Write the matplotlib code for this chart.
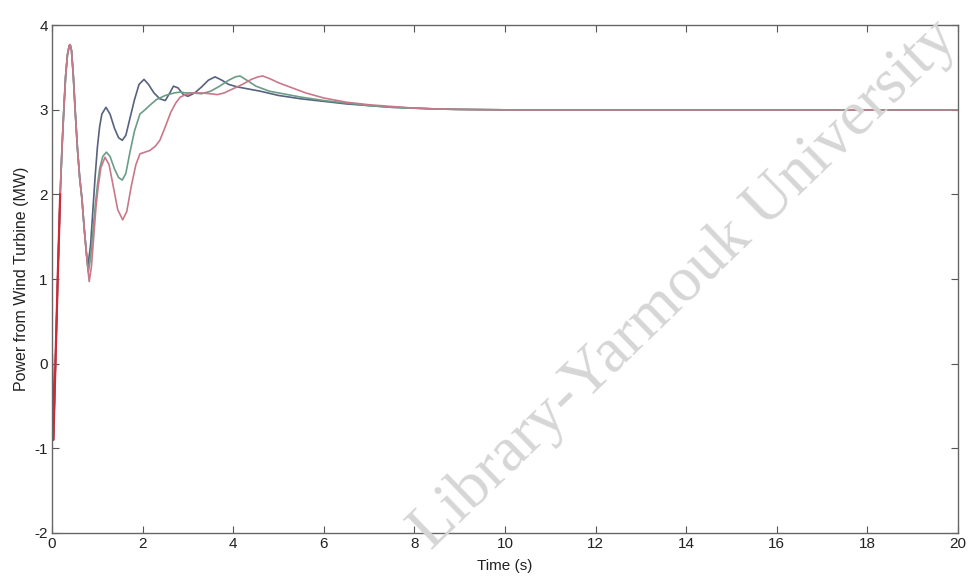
import numpy as np
import matplotlib.pyplot as plt

plt.rcParams['font.family'] = ['Liberation Sans', 'DejaVu Sans']
plt.rcParams['axes.unicode_minus'] = False

##shared start of the three responses (time in s, power in MW)
t_start = [0.0, 0.03, 0.08, 0.13, 0.18, 0.22, 0.26, 0.30, 0.34, 0.38, 0.40,
           0.43, 0.47, 0.51, 0.56, 0.61, 0.66, 0.71]
p_start = [0.1, -0.9, 0.1, 1.1, 2.0, 2.55, 3.0, 3.4, 3.65, 3.76, 3.77,
           3.7, 3.4, 3.0, 2.55, 2.2, 1.95, 1.6]

##case 1 (blue)
t_blue = [0.76, 0.79, 0.85, 0.90, 0.95, 1.00, 1.05, 1.10, 1.19, 1.28, 1.38,
          1.47, 1.55, 1.63, 1.72, 1.82, 1.92, 2.03, 2.13, 2.25, 2.38, 2.50,
          2.60, 2.68, 2.78, 2.90, 3.00, 3.15, 3.30, 3.45, 3.60, 3.75, 3.90,
          4.10, 4.30, 4.60, 5.00, 5.50, 6.00, 6.50, 7.00, 7.50, 8.00, 8.50,
          9.00, 10.0, 20.0]
p_blue = [1.3, 1.15, 1.4, 1.8, 2.2, 2.55, 2.8, 2.95, 3.03, 2.95, 2.78,
          2.67, 2.64, 2.7, 2.9, 3.12, 3.3, 3.36, 3.3, 3.2, 3.13, 3.11,
          3.2, 3.28, 3.26, 3.18, 3.16, 3.2, 3.27, 3.35, 3.39, 3.35, 3.3,
          3.27, 3.25, 3.22, 3.17, 3.13, 3.1, 3.07, 3.05, 3.03, 3.02, 3.01,
          3.005, 3.0, 3.0]

##case 2 (green)
t_green = [0.76, 0.80, 0.85, 0.90, 0.95, 1.00, 1.05, 1.12, 1.20, 1.28, 1.38,
           1.47, 1.55, 1.63, 1.72, 1.82, 1.94, 2.05, 2.15, 2.30, 2.50, 2.70,
           2.83, 2.95, 3.10, 3.30, 3.50, 3.70, 3.90, 4.05, 4.15, 4.30, 4.50,
           4.80, 5.00, 5.50, 6.00, 6.50, 7.00, 7.50, 8.00, 8.50, 9.00, 10.0,
           20.0]
p_green = [1.3, 1.08, 1.25, 1.55, 1.85, 2.1, 2.3, 2.45, 2.5, 2.45, 2.3,
           2.2, 2.17, 2.25, 2.5, 2.75, 2.95, 3.0, 3.05, 3.12, 3.17, 3.2,
           3.21, 3.2, 3.2, 3.19, 3.22, 3.28, 3.35, 3.39, 3.4, 3.35, 3.28,
           3.22, 3.2, 3.15, 3.11, 3.08, 3.05, 3.03, 3.02, 3.01, 3.005, 3.0,
           3.0]

##case 3 (red)
t_red = [0.76, 0.82, 0.87, 0.92, 0.97, 1.02, 1.08, 1.17, 1.26, 1.35, 1.45,
         1.56, 1.65, 1.75, 1.85, 1.94, 2.05, 2.16, 2.28, 2.38, 2.50, 2.62,
         2.73, 2.83, 2.95, 3.10, 3.30, 3.50, 3.65, 3.80, 4.00, 4.20, 4.40,
         4.55, 4.65, 4.80, 5.00, 5.30, 5.60, 6.00, 6.50, 7.00, 7.50, 8.00,
         8.50, 9.00, 10.0, 20.0]
p_red = [1.3, 0.97, 1.15, 1.5, 1.85, 2.1, 2.32, 2.44, 2.35, 2.1, 1.82,
         1.7, 1.8, 2.1, 2.35, 2.48, 2.5, 2.52, 2.57, 2.64, 2.8, 2.97,
         3.08, 3.15, 3.18, 3.2, 3.2, 3.19, 3.18, 3.2, 3.25, 3.3, 3.36,
         3.39, 3.4, 3.37, 3.32, 3.26, 3.2, 3.14, 3.09, 3.06, 3.04, 3.02,
         3.01, 3.005, 3.0, 3.0]

x_ticks = [0, 2, 4, 6, 8, 10, 12, 14, 16, 18, 20]
y_ticks = [-2, -1, 0, 1, 2, 3, 4]

fig = plt.figure(figsize=(9.69, 5.85), dpi=100)
ax = fig.add_axes([0.0537, 0.0889, 0.935, 0.868])

lw = 1.2
ax.plot(t_start + t_blue, p_start + p_blue, color='#56627e', lw=lw)
ax.plot(t_start + t_green, p_start + p_green, color='#6b9c86', lw=lw)
ax.plot(t_start + t_red, p_start + p_red, color='#c9788a', lw=lw)
##dense red trace at the very start
ax.plot(t_start[:5], p_start[:5], color='#d02838', lw=1.6)

ax.set_xlim(0, 20)
ax.set_ylim(-2, 4)
ax.set_xticks(x_ticks)
ax.set_yticks(y_ticks)
ax.tick_params(direction='in', length=5, top=True, right=True,
               color='#555555', labelsize=11, labelcolor='#222222', pad=3)
for s in ax.spines.values():
    s.set_color('#666666')
    s.set_linewidth(1.0)

ax.set_xlabel('Time (s)', fontsize=11, color='#222222', labelpad=6)
ax.set_ylabel('Power from Wind Turbine (MW)', fontsize=11.5, color='#222222',
              labelpad=4)

##scanned-page watermark
fig.text(0.99, 0.93, 'Library-Yarmouk University',
         family='Liberation Serif', fontsize=46, color='#d6d6d6',
         rotation=44, rotation_mode='anchor', ha='right', va='baseline')

fig.savefig('out.png', dpi=100)
